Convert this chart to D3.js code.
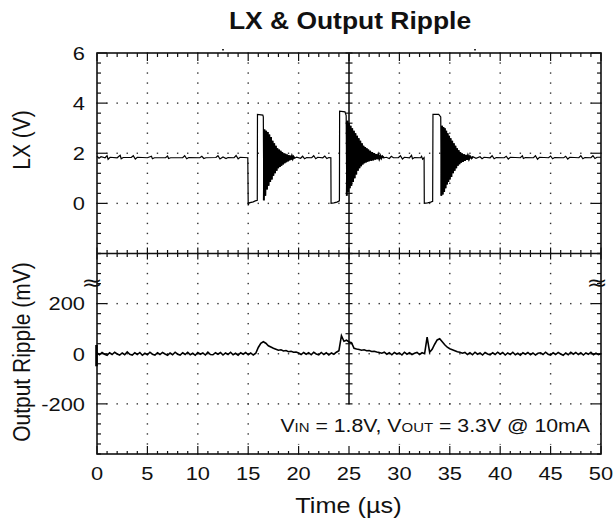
<!DOCTYPE html>
<html>
<head>
<meta charset="utf-8">
<script src="https://cdn.jsdelivr.net/npm/d3@7"></script>
<style>
  body { margin: 0; background: #fff; }
  text { font-family: "Liberation Sans", Arial, Helvetica, sans-serif; fill: #111; }
</style>
</head>
<body>
<div id="chart"></div>
<script>
// time axis, both traces share it (us)
var timeTicks = [0, 5, 10, 15, 20, 25, 30, 35, 40, 45, 50];
var lxTicks = [0, 2, 4, 6];
var rippleTicks = [-200, 0, 200];

// LX trace: [time us, volts]
var lxIdleA = [[0,1.88],[0.2,1.80],[0.4,1.86],[0.8,1.82],[1.0,1.90],[1.1,1.76],[1.3,1.84],[2.0,1.82],[2.3,1.92],[2.4,1.78],[2.6,1.83],[3.4,1.83],[3.6,1.90],[3.8,1.77],[4.0,1.84],[5.0,1.82],[5.4,1.88],[5.5,1.78],[5.7,1.82],[6.8,1.82],[7.0,1.89],[7.1,1.79],[7.3,1.82],[8.5,1.82],[8.7,1.90],[8.9,1.78],[9.1,1.83],[10.2,1.82],[10.4,1.88],[10.6,1.79],[10.8,1.82],[11.8,1.83],[12.0,1.90],[12.2,1.77],[12.5,1.85],[12.8,1.79],[13.0,1.83],[13.6,1.82],[13.8,1.91],[14.0,1.78],[14.2,1.84],[14.96,1.82]];
var pulseA = [[15.0,-0.08],[15.1,0.02],[15.5,0.06],[15.7,0.1],[15.9,0.12],[15.92,3.55],[16.45,3.52],[16.5,3.45]];
var ringA = [[16.55,0.12],[16.62,2.95],[16.7,0.3],[16.78,2.9],[16.86,0.55],[16.94,2.85],[17.02,0.7],[17.1,2.75],[17.18,0.85],[17.26,2.65],[17.34,0.95],[17.42,2.5],[17.5,1.1],[17.58,2.4],[17.66,1.2],[17.74,2.3],[17.82,1.3],[17.9,2.2],[17.98,1.4],[18.06,2.15],[18.14,1.45],[18.22,2.1],[18.3,1.5],[18.38,2.05],[18.46,1.55],[18.54,2.0],[18.62,1.6],[18.7,1.98],[18.78,1.64],[18.86,1.95],[18.94,1.68],[19.02,1.92],[19.1,1.72],[19.18,1.9],[19.26,1.75],[19.34,1.88],[19.42,1.78],[19.5,1.86],[19.6,1.8]];
var lxIdleB = [[19.8,1.84],[20.2,1.8],[20.4,1.88],[20.6,1.78],[20.8,1.83],[21.3,1.82],[21.5,1.9],[21.7,1.78],[21.9,1.84],[22.4,1.82],[22.6,1.89],[22.8,1.79],[23.0,1.83],[23.2,1.82]];
var pulseB = [[23.22,0.0],[23.5,0.02],[23.8,0.05],[24.05,0.1],[24.07,3.68],[24.6,3.65],[24.72,3.5]];
var ringB = [[24.78,0.3],[24.85,3.3],[24.92,0.45],[25.0,3.2],[25.08,0.6],[25.16,3.1],[25.24,0.7],[25.32,3.0],[25.4,0.85],[25.48,2.9],[25.56,1.0],[25.64,2.8],[25.72,1.15],[25.8,2.7],[25.88,1.3],[25.96,2.6],[26.04,1.4],[26.12,2.5],[26.2,1.48],[26.28,2.4],[26.36,1.55],[26.44,2.3],[26.52,1.6],[26.6,2.25],[26.68,1.63],[26.76,2.2],[26.84,1.66],[26.92,2.15],[27.0,1.68],[27.1,2.1],[27.2,1.7],[27.3,2.05],[27.4,1.72],[27.5,2.0],[27.6,1.75],[27.7,1.96],[27.8,1.77],[27.9,1.93],[28.0,1.78],[28.1,1.9],[28.2,1.8],[28.3,1.88],[28.45,1.82]];
var lxIdleC = [[28.7,1.84],[29.0,1.79],[29.2,1.88],[29.4,1.82],[29.9,1.82],[30.1,1.9],[30.3,1.77],[30.5,1.84],[31.0,1.82],[31.2,1.92],[31.3,1.78],[31.5,1.83],[32.1,1.82],[32.2,1.88],[32.3,1.76],[32.45,1.82]];
var pulseC = [[32.47,0.0],[32.8,0.02],[33.1,0.05],[33.3,0.08],[33.33,3.55],[33.9,3.55],[34.1,3.45]];
var ringC = [[34.16,0.3],[34.23,3.1],[34.3,0.35],[34.37,3.05],[34.44,0.45],[34.51,3.0],[34.58,0.6],[34.65,2.9],[34.72,0.75],[34.79,2.8],[34.86,0.85],[34.93,2.7],[35.0,0.95],[35.08,2.6],[35.16,1.05],[35.24,2.5],[35.32,1.2],[35.4,2.4],[35.48,1.3],[35.56,2.3],[35.64,1.4],[35.72,2.2],[35.8,1.5],[35.88,2.12],[35.96,1.56],[36.04,2.05],[36.12,1.62],[36.2,2.0],[36.3,1.66],[36.4,1.96],[36.5,1.7],[36.6,1.93],[36.7,1.74],[36.8,1.9],[36.9,1.77],[37.0,1.88],[37.15,1.8],[37.3,1.86]];
var lxIdleD = [[37.6,1.8],[38.0,1.86],[38.2,1.78],[38.4,1.84],[39.0,1.82],[39.2,1.9],[39.4,1.78],[39.6,1.83],[40.4,1.82],[40.6,1.88],[40.8,1.77],[41.0,1.84],[42.0,1.82],[42.2,1.9],[42.3,1.79],[42.5,1.83],[43.3,1.82],[43.5,1.9],[43.7,1.76],[43.9,1.84],[44.8,1.82],[45.0,1.89],[45.2,1.78],[45.4,1.83],[46.3,1.82],[46.5,1.88],[46.7,1.77],[46.9,1.84],[47.8,1.82],[48.0,1.9],[48.2,1.78],[48.4,1.83],[49.0,1.82],[49.2,1.9],[49.4,1.79],[49.6,1.84],[50,1.84]];

// output ripple, one sample every 0.25 us, mV
var rippleStep = 0.25;
var rippleMv = [
  3,-4,5,-2,-6,4,-3,6,-1,-5,3,-4,7,-2,-5,4,
  -3,5,-6,2,-4,6,-2,-5,4,-3,5,-1,-6,3,-4,6,
  -2,-5,4,-3,6,-4,2,-6,5,-2,3,-5,6,-3,-4,4,
  -2,5,-5,3,-3,6,-4,2,-6,4,-2,5,-4,3,-5,2,
  25,42,48,42,32,27,22,18,
  14,16,11,13,8,10,6,7,
  3,-3,5,-2,4,-4,6,-1,-4,5,-3,4,-5,3,-2,6,
  12,72,50,54,47,44,22,19,
  17,14,16,12,13,9,10,7,
  5,2,6,-2,4,-4,5,-1,3,-5,6,-2,4,-3,2,5,
  -3,4,0,66,6,18,38,55,
  60,48,36,26,20,16,12,8,
  6,2,5,-3,4,-4,6,-2,3,-5,5,-1,-4,4,-3,6,
  -2,5,-5,3,-3,6,-4,2,-6,4,-2,5,-4,3,-5,2,
  4,-3,6,-2,-5,4,-3,5,-1,-6,3,-4,6,-2,5,-3,
  4,-5,3,-2,6,-4,2,-3,1
];
var groundMarkMv = [-50, 35];
var triggerMarks = [12.5, 37.5];

var W = 613, H = 523;
var SX = 1.15; // the shot is a little wider than tall

var svg = d3.select('#chart').append('svg')
  .attr('width', W).attr('height', H);

var x = d3.scaleLinear().domain([0, 50]).range([97, 601]);
var yLx = d3.scaleLinear().domain([-2, 6]).range([253.5, 53]);
var yRip = d3.scaleLinear().domain([-400, 400]).range([454, 253.5]);

var yTop = yLx(6), yBot = yRip(-400), yMid = yLx(-2), xLeft = x(0), xRight = x(50);

function label(px, py, str, size, anchor, weight, rot) {
  var g = svg.append('g')
    .attr('transform', 'translate(' + px + ',' + py + ') scale(' + SX + ',1)' + (rot ? ' rotate(' + rot + ')' : ''));
  return g.append('text')
    .attr('text-anchor', anchor || 'middle')
    .attr('font-size', size + 'px')
    .attr('font-weight', weight || 'normal')
    .text(str);
}

function dot(g, px, py) {
  g.append('rect').attr('x', px - 0.7).attr('y', py - 0.7).attr('width', 1.4).attr('height', 1.4).attr('fill', '#333');
}

// dotted graticule
var grat = svg.append('g');
var minorT = d3.range(0, 50.001, 1);
var minorV = d3.range(-2, 6.001, 0.4);
var minorM = d3.range(-400, 400.001, 40);
timeTicks.filter(function(t) { return t > 0 && t < 50 && t !== 25; }).forEach(function(t) {
  minorV.forEach(function(v) { dot(grat, x(t), yLx(v)); });
  minorM.forEach(function(m) { dot(grat, x(t), yRip(m)); });
});
var hLines = lxTicks.filter(function(v) { return v < 6; }).map(yLx)
  .concat(rippleTicks.map(yRip));
hLines.forEach(function(py) {
  minorT.forEach(function(t) { dot(grat, x(t), py); });
});

// ticks: border ones point inward, centre cross ones both ways
var tk = svg.append('g').attr('stroke', '#111').attr('stroke-width', 1.2);
minorT.forEach(function(t, i) {
  var major = i % 5 === 0;
  tk.append('line').attr('x1', x(t)).attr('x2', x(t)).attr('y1', yTop).attr('y2', yTop + (major ? 8 : 4));
  tk.append('line').attr('x1', x(t)).attr('x2', x(t)).attr('y1', yBot).attr('y2', yBot - (major ? 8 : 3));
  tk.append('line').attr('x1', x(t)).attr('x2', x(t)).attr('y1', yMid - (major ? 6 : 3.5)).attr('y2', yMid + (major ? 6 : 3.5));
});
var minorY = minorV.map(yLx).concat(minorM.map(yRip));
minorY.forEach(function(py) {
  var major = lxTicks.some(function(v) { return Math.abs(yLx(v) - py) < 0.5; }) ||
              rippleTicks.some(function(m) { return Math.abs(yRip(m) - py) < 0.5; });
  var L = major ? 10 : 4;
  tk.append('line').attr('x1', xLeft).attr('x2', xLeft + L).attr('y1', py).attr('y2', py);
  tk.append('line').attr('x1', xRight).attr('x2', xRight - L).attr('y1', py).attr('y2', py);
  if (py < yRip(-200) + 1) {
    tk.append('line').attr('x1', x(25) - 3.5).attr('x2', x(25) + 3.5).attr('y1', py).attr('y2', py);
  }
});

// frame and centre cross (vertical one stops above the note)
svg.append('line').attr('x1', xLeft).attr('x2', xRight).attr('y1', yMid).attr('y2', yMid)
  .attr('stroke', '#111').attr('stroke-width', 1.6);
svg.append('line').attr('x1', x(25)).attr('x2', x(25)).attr('y1', yTop).attr('y2', yRip(-200))
  .attr('stroke', '#111').attr('stroke-width', 1.6);

// white box behind the conditions note
svg.append('rect').attr('x', 264).attr('y', yRip(-200) + 4).attr('width', xRight - 264 - 1).attr('height', 36)
  .attr('fill', '#fff');

svg.append('rect').attr('x', xLeft).attr('y', yTop).attr('width', xRight - xLeft).attr('height', yBot - yTop)
  .attr('fill', 'none').attr('stroke', '#111').attr('stroke-width', 1.6);

// traces
var lxData = [].concat(lxIdleA, pulseA, ringA, lxIdleB, pulseB, ringB, lxIdleC, pulseC, ringC, lxIdleD);
var lxLine = d3.line().x(function(d) { return x(d[0]); }).y(function(d) { return yLx(d[1]); });
svg.append('path').datum(lxData).attr('d', lxLine)
  .attr('fill', 'none').attr('stroke', '#000').attr('stroke-width', 1.2);
[ringA, ringB, ringC].forEach(function(r) {
  svg.append('path').datum(r).attr('d', lxLine)
    .attr('fill', 'none').attr('stroke', '#000').attr('stroke-width', 1.9);
});

var ripLine = d3.line().x(function(d, i) { return x(i * rippleStep); }).y(function(d) { return yRip(d); });
svg.append('path').datum(rippleMv).attr('d', ripLine)
  .attr('fill', 'none').attr('stroke', '#000').attr('stroke-width', 1.6);

svg.append('line').attr('x1', x(0) - 0.5).attr('x2', x(0) - 0.5)
  .attr('y1', yRip(groundMarkMv[0])).attr('y2', yRip(groundMarkMv[1]))
  .attr('stroke', '#000').attr('stroke-width', 2.6);

triggerMarks.forEach(function(t) {
  svg.append('rect').attr('x', x(t) - 1).attr('y', yTop - 4).attr('width', 2).attr('height', 1.5).attr('fill', '#333');
});

// labels
timeTicks.forEach(function(t) { label(x(t), 480, String(t), 19); });
lxTicks.forEach(function(v) { label(85, yLx(v) + 6.8, String(v), 19, 'end'); });
rippleTicks.forEach(function(m) { label(85, yRip(m) + 6.8, String(m), 19, 'end'); });

label(350, 29, 'LX & Output Ripple', 23, 'middle', 'bold');
label(348.5, 513, 'Time (\u00b5s)', 22);
label(30, 140, 'LX (V)', 21, 'middle', 'normal', -90);
label(30, 352, 'Output Ripple (mV)', 21, 'middle', 'normal', -90);

label(92, 290, '\u2248', 22).style('font-family', '"DejaVu Sans", sans-serif');
label(597, 290, '\u2248', 22).style('font-family', '"DejaVu Sans", sans-serif');

var note = label(590, 432, '', 18.5, 'end');
note.append('tspan').text('V');
note.append('tspan').attr('font-size', '13px').text('IN');
note.append('tspan').text(' = 1.8V, V');
note.append('tspan').attr('font-size', '13px').text('OUT');
note.append('tspan').text(' = 3.3V @ 10mA');
</script>
</body>
</html>
